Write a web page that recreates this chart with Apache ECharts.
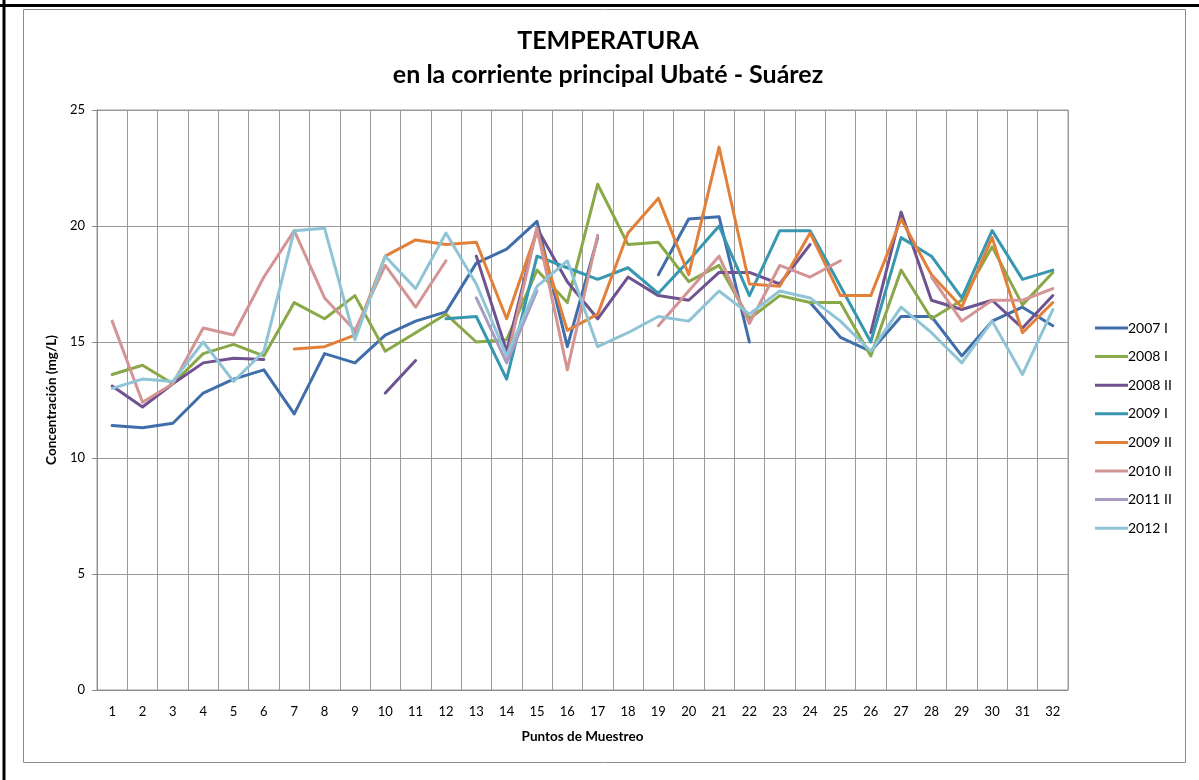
<!DOCTYPE html>
<html>
<head>
<meta charset="utf-8">
<style>
  html, body { margin: 0; padding: 0; background: #ffffff; }
  #chart { width: 1199px; height: 780px; }
</style>
<script src="https://cdn.jsdelivr.net/npm/echarts@6/dist/echarts.min.js"></script>
</head>
<body>
<div id="chart"></div>
<script>
// Sampling points along the main stream
const puntos = ['1','2','3','4','5','6','7','8','9','10','11','12','13','14','15','16',
                '17','18','19','20','21','22','23','24','25','26','27','28','29','30','31','32'];

// Temperature per campaign (null = no measurement)
const t2007I  = [11.4, 11.3, 11.5, 12.8, 13.4, 13.8, 11.9, 14.5, 14.1, 15.3, 15.9, 16.3, 18.4, 19.0, 20.2, 14.8,
                 19.5, null, 17.9, 20.3, 20.4, 15.0, null, 16.7, 15.2, 14.6, 16.1, 16.1, 14.4, 15.9, 16.5, 15.7];
const t2008I  = [13.6, 14.0, 13.2, 14.5, 14.9, 14.4, 16.7, 16.0, 17.0, 14.6, 15.4, 16.2, 15.0, 15.1, 18.1, 16.7,
                 21.8, 19.2, 19.3, 17.6, 18.3, 16.0, 17.0, 16.7, 16.7, 14.4, 18.1, 16.0, 16.8, 19.1, 16.6, 18.0];
const t2008II = [13.1, 12.2, 13.2, 14.1, 14.3, 14.25, null, null, null, 12.8, 14.2, null, 18.7, 14.6, 19.9, 17.6,
                 16.0, 17.8, 17.0, 16.8, 18.0, 18.0, 17.5, 19.2, null, 15.4, 20.6, 16.8, 16.4, 16.8, 15.6, 17.0];
const t2009I  = [null, null, null, null, null, null, null, null, null, null, null, 16.0, 16.1, 13.4, 18.7, 18.2,
                 17.7, 18.2, 17.1, 18.5, 20.0, 17.0, 19.8, 19.8, 17.4, 15.0, 19.5, 18.7, 16.9, 19.8, 17.7, 18.1];
const t2009II = [null, null, null, null, null, null, 14.7, 14.8, 15.3, 18.7, 19.4, 19.2, 19.3, 16.0, 19.8, 15.5,
                 16.2, 19.7, 21.2, 17.9, 23.4, 17.5, 17.4, 19.7, 17.0, 17.0, 20.3, 17.9, 16.5, 19.5, 15.4, 16.7];
const t2010II = [15.9, 12.4, 13.2, 15.6, 15.3, 17.8, 19.8, 16.9, 15.5, 18.3, 16.5, 18.5, null, 14.2, 19.9, 13.8,
                 19.6, null, 15.7, 17.2, 18.7, 15.8, 18.3, 17.8, 18.5, null, null, 17.8, 15.9, 16.8, 16.8, 17.3];
const t2011II = [null, null, null, null, null, null, null, null, null, null, null, null, 16.9, 14.1, 17.2, null,
                 null, null, null, null, null, null, null, null, null, null, null, null, null, null, null, null];
const t2012I  = [13.0, 13.4, 13.3, 15.0, 13.3, 14.6, 19.8, 19.9, 15.1, 18.7, 17.3, 19.7, 17.5, 14.4, 17.4, 18.5,
                 14.8, 15.4, 16.1, 15.9, 17.2, 16.2, 17.2, 16.9, 15.9, 14.6, 16.5, 15.4, 14.1, 15.9, 13.6, 16.4];

const campaigns = [
  { name: '2007 I',  data: t2007I,  color: '#3F6EAA' },
  { name: '2008 I',  data: t2008I,  color: '#89A848' },
  { name: '2008 II', data: t2008II, color: '#6E5390' },
  { name: '2009 I',  data: t2009I,  color: '#3797AF' },
  { name: '2009 II', data: t2009II, color: '#E2803A' },
  { name: '2010 II', data: t2010II, color: '#D39493' },
  { name: '2011 II', data: t2011II, color: '#A99BC2' },
  { name: '2012 I',  data: t2012I,  color: '#8EC4D6' }
];

const FONT = 'Lato, "Open Sans", sans-serif';
const chart = echarts.init(document.getElementById('chart'), null, { renderer: 'canvas' });

chart.setOption({
  animation: false,
  backgroundColor: '#ffffff',
  textStyle: { fontFamily: FONT },
  title: {
    text: 'TEMPERATURA\nen la corriente principal Ubaté - Suárez',
    left: 603,
    top: 19,
    textAlign: 'center',
    textStyle: { fontFamily: FONT, fontSize: 25, fontWeight: 'bold', color: '#000', lineHeight: 34 }
  },
  graphic: [
    // chart area frame
    { type: 'rect', shape: { x: 23.5, y: 9.5, width: 1162, height: 753 },
      style: { fill: null, stroke: '#8c8c8c', lineWidth: 1 }, silent: true, z: -1 },
    // outer black rules (top and left)
    { type: 'line', shape: { x1: 0, y1: 5.5, x2: 1199, y2: 5.5 },
      style: { stroke: '#000', lineWidth: 3 }, silent: true },
    { type: 'line', shape: { x1: 4, y1: 0, x2: 4, y2: 780 },
      style: { stroke: '#000', lineWidth: 3 }, silent: true }
  ],
  legend: {
    orient: 'vertical',
    left: 1090,
    top: 316,
    itemWidth: 33,
    itemHeight: 14,
    itemGap: 14.6,
    textStyle: { fontFamily: FONT, fontSize: 14, color: '#000', padding: [0, 0, 0, -5] },
    data: campaigns.map(c => ({ name: c.name, icon: 'path://M0,6 L33,6 L33,9 L0,9 Z' }))
  },
  grid: {
    left: 97, right: 131, top: 110, bottom: 90,
    show: true, borderColor: '#9a9a9a', borderWidth: 1
  },
  xAxis: {
    type: 'category',
    data: puntos,
    boundaryGap: true,
    name: 'Puntos de Muestreo',
    nameLocation: 'middle',
    nameGap: 40,
    nameTextStyle: { fontFamily: FONT, fontSize: 13.5, fontWeight: 'bold', color: '#000' },
    axisLine: { lineStyle: { color: '#8c8c8c', width: 1 } },
    axisTick: { show: false },
    axisLabel: { interval: 0, margin: 15, fontFamily: FONT, fontSize: 13, color: '#000' },
    splitLine: { show: true, interval: 0, lineStyle: { color: '#9a9a9a', width: 1 } }
  },
  yAxis: {
    type: 'value',
    min: 0, max: 25, interval: 5,
    name: 'Concentración (mg/L)',
    nameLocation: 'middle',
    nameGap: 38,
    nameTextStyle: { fontFamily: FONT, fontSize: 13.5, fontWeight: 'bold', color: '#000' },
    axisLine: { show: true, lineStyle: { color: '#8c8c8c', width: 1 } },
    axisTick: { show: true, inside: false, length: 5, lineStyle: { color: '#8c8c8c' } },
    axisLabel: { margin: 12, fontFamily: FONT, fontSize: 13, color: '#000' },
    splitLine: { show: true, lineStyle: { color: '#9a9a9a', width: 1 } }
  },
  series: campaigns.map(c => ({
    name: c.name,
    type: 'line',
    data: c.data,
    symbol: 'none',
    showSymbol: false,
    connectNulls: false,
    color: c.color,
    lineStyle: { color: c.color, width: 3, cap: 'round', join: 'round' },
    itemStyle: { color: c.color }
  }))
});
</script>
</body>
</html>
